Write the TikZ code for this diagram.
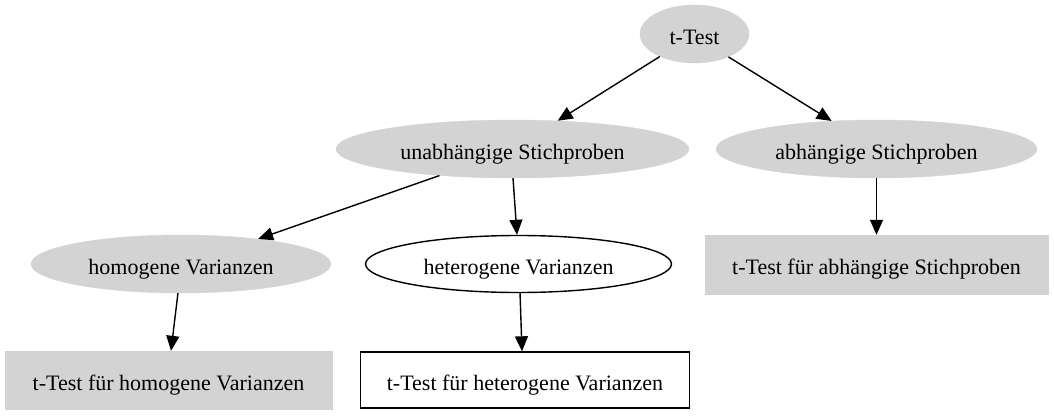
\documentclass[tikz,border=0pt]{standalone}
\usepackage{fontspec}
\setmainfont{Liberation Serif}
\usetikzlibrary{arrows.meta,shapes.geometric}
\definecolor{lgray}{HTML}{D3D3D3}
\tikzset{
  base/.style={inner sep=0pt, text height=20.6pt, text depth=0pt, font=\fontsize{22}{26}\selectfont},
  gell/.style={base, ellipse, fill=lgray, draw=lgray},
  well/.style={base, ellipse, fill=white, draw=black, line width=1.4pt},
  gbox/.style={base, rectangle, fill=lgray, draw=lgray},
  wbox/.style={base, rectangle, fill=white, draw=black, line width=1.4pt},
  conn/.style={line width=1.4pt, -{Triangle[length=15pt,width=13pt]}}
}
\begin{document}
\begin{tikzpicture}[x=1pt,y=1pt]
\useasboundingbox (0,0) rectangle (1054,416);
\node[gell, minimum width=109pt, minimum height=58pt] (tt) at (694.5,382) {t-Test};
\node[gell, minimum width=353pt, minimum height=58pt] (unab) at (512.5,267) {unabhängige Stichproben};
\node[gell, minimum width=321pt, minimum height=58pt] (abh) at (876.5,267) {abhängige Stichproben};
\node[gell, minimum width=300pt, minimum height=58pt] (hom) at (181,152) {homogene Varianzen};
\node[well, minimum width=306pt, minimum height=57pt] (het) at (518.5,152) {heterogene Varianzen};
\node[gbox, minimum width=343pt, minimum height=59pt] (rabh) at (876.5,151.5) {t-Test für abhängige Stichproben};
\node[gbox, minimum width=327pt, minimum height=58pt] (rhom) at (168.5,36) {t-Test für homogene Varianzen};
\node[wbox, minimum width=329pt, minimum height=56pt] (rhet) at (525,36) {t-Test für heterogene Varianzen};
\draw[conn] (tt.213) -- (unab.32);
\draw[conn] (tt.-34) -- (abh.148);
\draw[conn] (unab.200) -- (hom.18);
\draw[conn] (unab.-89) -- (het.93);
\draw[conn] (hom.-96) -- ([xshift=2.5pt]rhom.north);
\draw[conn] (het.-87) -- ([xshift=-3pt]rhet.north);
\draw[conn] (abh.south) -- (rabh.north);
\end{tikzpicture}
\end{document}
